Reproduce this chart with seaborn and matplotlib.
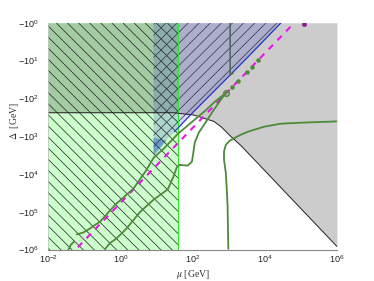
import numpy as np
import pandas as pd
import seaborn as sns
import matplotlib.pyplot as plt
from matplotlib.ticker import LogLocator, NullFormatter

# values, stored as log10(mu / GeV) and log10(|Delta| / GeV)
green_mu_max = 1.60      # light green band: mu below this
band_mu_min = 0.92       # purple / blue region starts here

# lower edge of the grey region (black line)
arc_mu = [-2.0, 1.47, 2.03, 2.59, 2.80, 3.06, 3.34, 6.0]
arc_delta = [2.38, 2.38, 2.44, 2.61, 2.76, 3.01, 3.25, 5.92]

# right edge of the purple region (blue line)
edge_mu = [4.45, 3.60, 3.00, 2.50, 2.00, 1.50, 0.92]
edge_delta = [0.0, 0.84, 1.42, 1.90, 2.38, 2.88, 3.44]

# small blue triangle at the foot of the band
tri_mu = [0.92, 0.92, 1.28]
tri_delta = [3.04, 3.52, 3.12]

# magenta dashed line
mag_mu = [-1.18, 1.80, 4.82]
mag_delta = [5.94, 2.98, 0.0]
mag_dot = (5.10, 0.02)

# green contours
a_mu = [-1.21, -1.03, -0.89, -0.56, -0.14, 0.36, 0.69, 0.92, 1.20, 1.59, 1.95, 2.31, 2.64, 2.92]
a_delta = [5.60, 5.55, 5.47, 5.26, 4.81, 4.39, 3.94, 3.57, 3.33, 2.94, 2.65, 2.36, 2.07, 1.86]

b_mu = [-0.42, -0.28, -0.14, 0.03, 0.19, 0.55, 0.92, 1.31, 1.47, 1.56, 1.64, 1.86, 1.98, 2.02,
        2.06, 2.17, 2.37, 2.59, 2.78, 2.92]
b_delta = [5.98, 5.82, 5.73, 5.58, 5.42, 5.00, 4.68, 4.41, 4.07, 3.83, 3.76, 3.78, 3.68, 3.44,
           3.17, 2.91, 2.62, 2.30, 2.04, 1.86]

c_mu = [2.99, 2.98, 2.97, 2.94, 2.92, 2.87, 2.87, 2.92, 3.03, 3.12, 3.34, 3.54, 3.98, 4.45, 5.10, 6.0]
c_delta = [5.98, 5.47, 4.86, 4.28, 3.97, 3.62, 3.41, 3.23, 3.12, 3.07, 2.96, 2.88, 2.75, 2.67, 2.64, 2.61]

d_mu = [3.04, 3.04, 3.12]
d_delta = [0.0, 1.38, 1.33]

stub_mu = [-1.44, -1.37, -1.28]
stub_delta = [6.0, 5.87, 5.79]

dots_mu = [3.09, 3.26, 3.51, 3.65, 3.81]
dots_delta = [1.70, 1.54, 1.30, 1.17, 0.98]
loop_pt = (2.92, 1.86)

x_ticks = [-2, -1, 0, 1, 2, 3, 4, 5, 6]
x_tick_labels = ['$10^{-2}$', '', '$10^{0}$', '', '$10^{2}$', '', '$10^{4}$', '', '$10^{6}$']
y_ticks = [0, 1, 2, 3, 4, 5, 6]
y_tick_labels = ['$-10^{%d}$' % k for k in y_ticks]


def p10(v):
    return 10.0 ** np.asarray(v, dtype=float)


sns.set_style("white")
plt.rcParams['mathtext.fontset'] = 'custom'
plt.rcParams['mathtext.rm'] = 'Liberation Sans'
plt.rcParams['mathtext.it'] = 'Liberation Sans:italic'
plt.rcParams['font.family'] = ['Liberation Sans', 'DejaVu Sans']
plt.rcParams['hatch.linewidth'] = 0.5

fig = plt.figure(figsize=(3.74, 2.81), dpi=100)
ax = fig.add_axes([0.129, 0.112, 0.772, 0.807])
ax.set_xscale('log')
ax.set_yscale('log')
ax.set_xlim(1e-2, 1e6)
ax.set_ylim(1e6, 1)

# light green band
ax.axvspan(1e-2, 10 ** green_mu_max, color='#ccffcc', lw=0, zorder=0.5)
# grey region above the arc
ax.fill_between(p10(arc_mu), p10(arc_delta), 1, color='black', alpha=0.2, lw=0, zorder=1)
# purple region
pur_x = np.concatenate([[band_mu_min], edge_mu])
pur_y = np.concatenate([[0.0], edge_delta])
ax.fill(p10(pur_x), p10(pur_y), color='#3333cc', alpha=0.2, lw=0, zorder=1.5)
ax.fill(p10(tri_mu), p10(tri_delta), color='#3f78c8', alpha=0.6, lw=0, zorder=1.6)

# hatching
ax.fill(p10([-2, green_mu_max, green_mu_max, -2]), p10([0, 0, 6, 6]),
        facecolor='none', edgecolor='#222222', lw=0, hatch='\\\\\\', zorder=2)
ax.fill(p10(pur_x), p10(pur_y), facecolor='none', edgecolor='#333344', lw=0, hatch='///', zorder=2)

# boundaries
ax.axvline(10 ** green_mu_max, color='#22ee22', lw=0.7, zorder=2.5)
sns.lineplot(x=p10(arc_mu), y=p10(arc_delta), sort=False, estimator=None, ax=ax,
             color='#222222', lw=0.7, zorder=2.5)
sns.lineplot(x=p10(edge_mu[:-1]), y=p10(edge_delta[:-1]), sort=False, estimator=None, ax=ax,
             color='#2233cc', lw=0.9, zorder=2.6)

# magenta dashed line
sns.lineplot(x=p10(mag_mu), y=p10(mag_delta), sort=False, estimator=None, ax=ax,
             color='#ee11ee', lw=1.5, linestyle=(0, (3, 3)), zorder=3)
ax.plot(10 ** mag_dot[0], 10 ** mag_dot[1], 'o', ms=2.5, color='#882288', zorder=3)

# green contours
green = '#4d8a3a'
for xs, ys in [(a_mu, a_delta), (b_mu, b_delta), (c_mu, c_delta), (stub_mu, stub_delta)]:
    sns.lineplot(x=p10(xs), y=p10(ys), sort=False, estimator=None, ax=ax,
                 color=green, lw=1.3, zorder=3.2)
sns.lineplot(x=p10(d_mu), y=p10(d_delta), sort=False, estimator=None, ax=ax,
             color='#4e6e5a', lw=1.2, zorder=3.2)
sns.scatterplot(x=p10(dots_mu), y=p10(dots_delta), ax=ax, color=green, s=9,
                edgecolor=green, zorder=3.2)
ax.plot(10 ** loop_pt[0], 10 ** loop_pt[1], 'o', ms=4, mfc='none', mec=green, mew=1.1, zorder=3.2)

# axes cosmetics
ax.set_xticks(p10(x_ticks))
ax.set_xticklabels(x_tick_labels)
ax.xaxis.set_minor_locator(LogLocator(base=10, subs=np.arange(2, 10), numticks=20))
ax.xaxis.set_minor_formatter(NullFormatter())
ax.set_yticks(p10(y_ticks))
ax.set_yticklabels(y_tick_labels)
ax.yaxis.set_minor_locator(plt.NullLocator())
ax.tick_params(axis='x', which='major', direction='in', length=2.5, width=0.5,
               color='#777777', labelsize=6.5, pad=3, labelcolor='#222222')
ax.tick_params(axis='x', which='minor', direction='in', length=1.3, width=0.4, color='#888888')
ax.tick_params(axis='y', which='major', direction='in', length=0, labelsize=6.5, pad=7,
               labelcolor='#222222')
for side in ['top', 'right']:
    ax.spines[side].set_visible(False)
ax.spines['bottom'].set_color('#888888')
ax.spines['bottom'].set_linewidth(0.8)
ax.spines['left'].set_color('#bbbbbb')
ax.spines['left'].set_linewidth(0.5)

ax.set_xlabel(r'$\mu$ [GeV]', family='Liberation Serif', math_fontfamily='stix',
              fontsize=7, color='#333333', labelpad=2)
ax.set_ylabel(r'$\Delta$  [GeV]', family='Liberation Serif', math_fontfamily='stix',
              fontsize=7, color='#333333')
ax.yaxis.set_label_coords(-0.096, 0.567)

fig.savefig('out.png', dpi=100)
